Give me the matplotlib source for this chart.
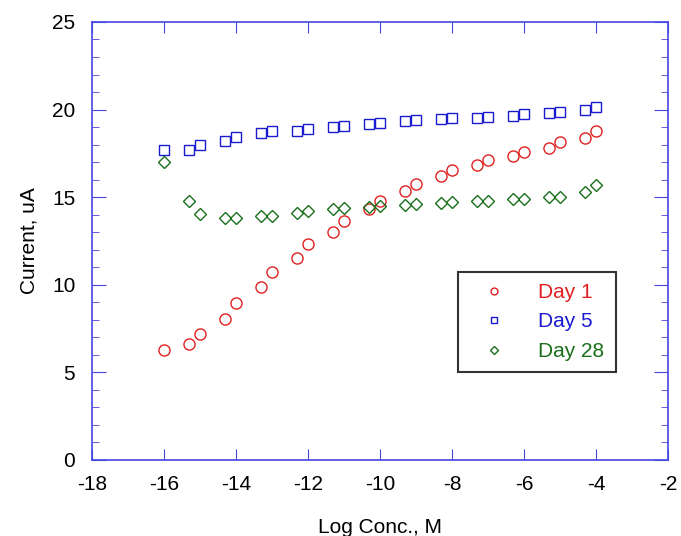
import matplotlib
matplotlib.use("Agg")
import matplotlib.pyplot as plt
from matplotlib.ticker import MultipleLocator

plt.rcParams['font.family'] = ['Liberation Sans', 'DejaVu Sans']

log_conc = [-16, -15.3, -15, -14.3, -14, -13.3, -13, -12.3, -12, -11.3, -11,
            -10.3, -10, -9.3, -9, -8.3, -8, -7.3, -7, -6.3, -6, -5.3, -5, -4.3, -4]
day1 = [6.25, 6.6, 7.2, 8.05, 8.95, 9.85, 10.75, 11.55, 12.3, 13.0, 13.65,
        14.3, 14.8, 15.35, 15.75, 16.2, 16.55, 16.85, 17.1, 17.35, 17.6,
        17.8, 18.15, 18.4, 18.8]
day5 = [17.7, 17.7, 17.95, 18.2, 18.45, 18.65, 18.75, 18.8, 18.9, 19.0, 19.05,
        19.15, 19.25, 19.35, 19.4, 19.45, 19.5, 19.52, 19.55, 19.65, 19.72,
        19.8, 19.85, 19.98, 20.12]
day28 = [17.0, 14.8, 14.05, 13.8, 13.8, 13.9, 13.95, 14.1, 14.22, 14.32, 14.38,
         14.42, 14.5, 14.57, 14.6, 14.65, 14.72, 14.78, 14.8, 14.88, 14.92,
         15.0, 15.03, 15.32, 15.72]
series_names = ["Day 1", "Day 5", "Day 28"]
colors = ["#e02020", "#1a1ad0", "#1a701a"]
markers = ["o", "s", "D"]
x_ticks = [-18, -16, -14, -12, -10, -8, -6, -4, -2]
y_ticks = [0, 5, 10, 15, 20, 25]

fig = plt.figure(figsize=(6.81, 5.36), dpi=100)
ax = fig.add_axes([0.135, 0.142, 0.846, 0.817])

sizes = [8, 7.8, 6.2]
for ys, name, c, m, s in zip([day1, day5, day28], series_names, colors, markers, sizes):
    ax.plot(log_conc, ys, linestyle='none', marker=m, markersize=s,
            markerfacecolor='none', markeredgecolor=c, markeredgewidth=1.0,
            label=name)

ax.set_xlim(-18, -2)
ax.set_ylim(0, 25)
ax.set_xticks(x_ticks)
ax.set_yticks(y_ticks)
ax.set_xticklabels([str(v) for v in x_ticks])
ax.yaxis.set_minor_locator(MultipleLocator(1))

spine_c = "#4545e0"
for sp in ax.spines.values():
    sp.set_color(spine_c)
    sp.set_linewidth(1.2)
ax.tick_params(axis='both', which='both', direction='in', top=True, right=True,
               color=spine_c, labelsize=15, labelcolor='black')
ax.tick_params(axis='x', which='major', length=8, pad=11)
ax.tick_params(axis='y', which='major', length=10, pad=12)
ax.tick_params(axis='y', which='minor', length=5)

ax.set_xlabel("Log Conc., M", fontsize=15, labelpad=17)
ax.set_ylabel("Current, uA", fontsize=15, labelpad=10)

leg = ax.legend(loc='upper right', bbox_to_anchor=(0.909, 0.43), fontsize=15,
                markerscale=0.62, frameon=True, fancybox=False, edgecolor='black',
                borderpad=0.55, labelspacing=0.5, handlelength=2.4,
                handletextpad=0.9, borderaxespad=0)
leg.get_frame().set_linewidth(1.5)
for t, c in zip(leg.get_texts(), colors):
    t.set_color(c)

fig.savefig("out.png", dpi=100)
